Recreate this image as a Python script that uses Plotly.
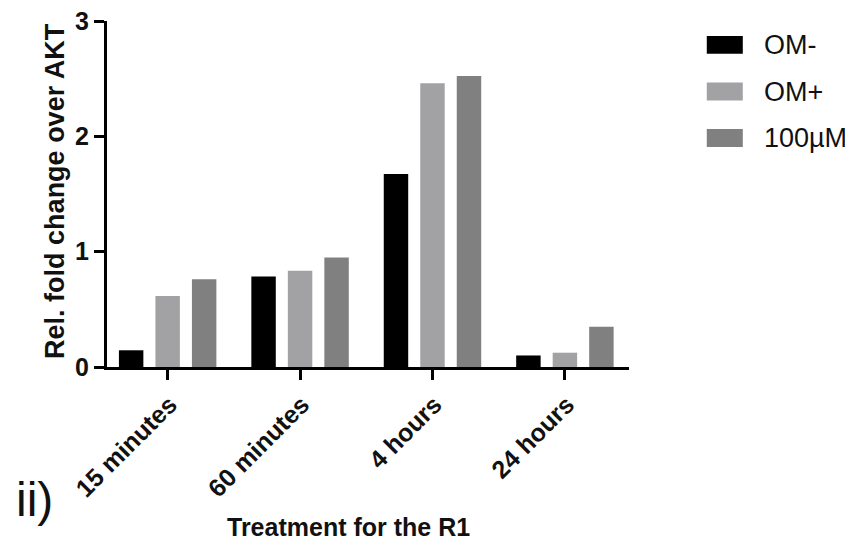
import plotly.graph_objects as go

categories = ["15 minutes", "60 minutes", "4 hours", "24 hours"]
series_names = ["OM-", "OM+", "100\u00b5M"]
om_minus = [0.145, 0.785, 1.673, 0.10]
om_plus = [0.615, 0.835, 2.46, 0.124]
um100 = [0.76, 0.95, 2.524, 0.35]
colors = ["#000000", "#a2a2a5", "#808080"]
y_ticks = [0, 1, 2, 3]

FONT = "Arial, Liberation Sans, sans-serif"
TXT = "#111111"

fig = go.Figure()
for name, vals, col in zip(series_names, [om_minus, om_plus, um100], colors):
    fig.add_trace(go.Bar(x=categories, y=vals, name=name,
                         marker=dict(color=col, line=dict(width=0)),
                         showlegend=False))

# manual legend with large swatches
legend_y = [0.931, 0.796, 0.662]
for name, col, yc in zip(series_names, colors, legend_y):
    fig.add_shape(type="rect", xref="paper", yref="paper",
                  x0=1.149, x1=1.218, y0=yc - 0.026, y1=yc + 0.026,
                  fillcolor=col, line=dict(width=0))
    fig.add_annotation(xref="paper", yref="paper", x=1.255, y=yc, text=name,
                       showarrow=False, xanchor="left", yanchor="middle",
                       font=dict(family=FONT, size=27, color=TXT))

fig.add_annotation(xref="paper", yref="paper", x=-0.178, y=-0.384, text="ii)",
                   showarrow=False, xanchor="left", yanchor="middle",
                   font=dict(family=FONT, size=48, color=TXT))

fig.add_annotation(xref="paper", yref="paper", x=0.462, y=-0.462,
                   text="<b>Treatment for the R1</b>",
                   showarrow=False, xanchor="center", yanchor="middle",
                   font=dict(family=FONT, size=25, color=TXT))

fig.add_annotation(xref="paper", yref="paper", x=-0.0996, y=0.509,
                   text="<b>Rel. fold change over AKT</b>", textangle=-90,
                   showarrow=False, xanchor="center", yanchor="middle",
                   font=dict(family=FONT, size=27, color=TXT))

fig.update_layout(
    width=845, height=537,
    margin=dict(l=99, r=224, t=13, b=178, autoexpand=False),
    plot_bgcolor="white", paper_bgcolor="white",
    barmode="group", bargap=0.173, bargroupgap=0.33,
    font=dict(family=FONT, color=TXT),
    xaxis=dict(showline=True, linecolor="black", linewidth=3, ticks="outside",
               ticklen=10, tickwidth=3, tickcolor="black", tickangle=-45,
               ticklabelshift=2, automargin=False,
               tickfont=dict(family=FONT, size=25, color=TXT, weight="bold"),
               range=[-0.458, 3.484]),
    yaxis=dict(showline=True, linecolor="black", linewidth=3, ticks="outside",
               ticklen=10, tickwidth=3, tickcolor="black", range=[0, 3],
               tickvals=y_ticks, showgrid=False, zeroline=False,
               ticklabeloverflow="allow", automargin=False,
               tickfont=dict(family=FONT, size=25, color=TXT, weight="bold")),
)

fig.write_html("out.html")
